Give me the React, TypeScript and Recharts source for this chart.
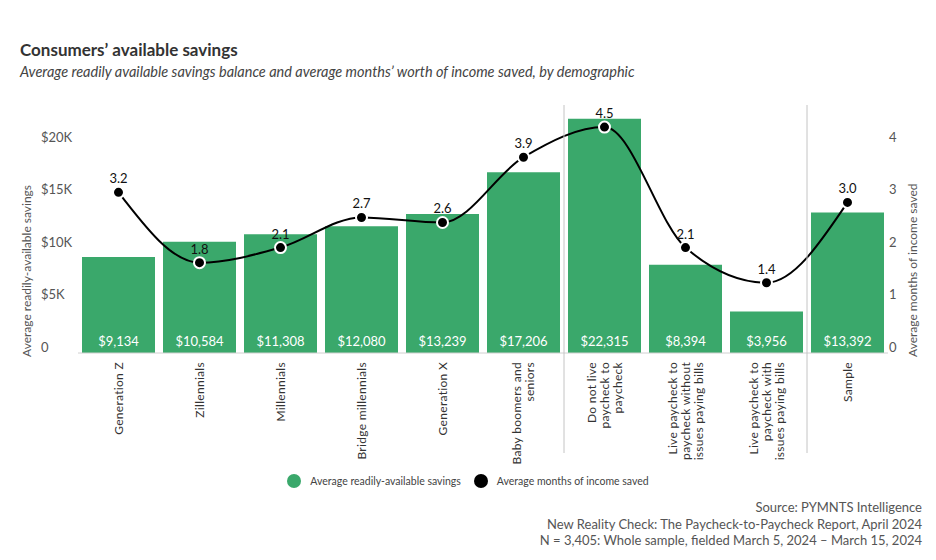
import React from "react";
import {
  ComposedChart,
  Bar,
  Line,
  XAxis,
  YAxis,
  Legend,
  LabelList,
  Label,
} from "recharts";

// categories (\n = line break in the rotated axis label)
const categories = [
  "Generation Z",
  "Zillennials",
  "Millennials",
  "Bridge millennials",
  "Generation X",
  "Baby boomers and\nseniors",
  "Do not live\npaycheck to\npaycheck",
  "Live paycheck to\npaycheck without\nissues paying bills",
  "Live paycheck to\npaycheck with\nissues paying bills",
  "Sample",
];
const savings = [9134, 10584, 11308, 12080, 13239, 17206, 22315, 8394, 3956, 13392];
const months = [3.2, 1.8, 2.1, 2.7, 2.6, 3.9, 4.5, 2.1, 1.4, 3.0];
const savingsTicks = [0, 5000, 10000, 15000, 20000];
const monthsTicks = [0, 1, 2, 3, 4];
// a group separator sits before these categories
const groupStarts = [6, 9];
const SAVINGS_NAME = "Average readily-available savings";
const MONTHS_NAME = "Average months of income saved";
const legendOrder = [SAVINGS_NAME, MONTHS_NAME];

const data = categories.map((name, i) => ({
  name,
  savings: savings[i],
  months: months[i],
}));

const GREEN = "#3aa86b";
const FONT = "Lato, 'Noto Sans', sans-serif";
const CHART_W = 936;
const CHART_H = 500;
const MARGIN = { top: 105, right: 0, bottom: 5, left: 0 };
const LEFT_W = 78;
const RIGHT_W = 48;
const XAXIS_H = 114;
const LEGEND_H = 28;
const PLOT_W = CHART_W - LEFT_W - RIGHT_W;
const PLOT_H = CHART_H - MARGIN.top - MARGIN.bottom - XAXIS_H - LEGEND_H;

const fmtMoney = (v: number) => "$" + v.toLocaleString("en-US");
const fmtK = (v: number) => (v === 0 ? "0" : `$${v / 1000}K`);

function LeftTick(props: any) {
  const { x, y, payload } = props;
  return (
    <text x={x - 37} y={y - 6} dy="0.35em" textAnchor="start" fontSize={13} fill="#555" fontFamily={FONT}>
      {fmtK(payload.value)}
    </text>
  );
}

function RightTick(props: any) {
  const { x, y, payload } = props;
  return (
    <text x={x + 1} y={y - 6} dy="0.35em" textAnchor="start" fontSize={13} fill="#555" fontFamily={FONT}>
      {payload.value}
    </text>
  );
}

function CategoryTick(props: any) {
  const { x, y, payload, index } = props;
  const lines = String(payload.value).split("\n");
  const lh = 13;
  const band = PLOT_W / categories.length;
  return (
    <g>
      {groupStarts.includes(index) && (
        <line
          x1={x - band / 2}
          x2={x - band / 2}
          y1={y - PLOT_H}
          y2={y + 100}
          stroke="#c4c4c4"
          strokeWidth={1}
        />
      )}
      <g transform={`translate(${x},${y + 9}) rotate(-90)`}>
        <text textAnchor="end" fontSize={12} fill="#333" fontFamily={FONT} letterSpacing={0.3}>
          {lines.map((ln, i) => (
            <tspan key={i} x={0} y={(i - (lines.length - 1) / 2) * lh} dy="0.35em">
              {ln}
            </tspan>
          ))}
        </text>
      </g>
    </g>
  );
}

function AxisTitle(props: any) {
  const { viewBox, value, dx } = props;
  const x = viewBox.x + dx;
  const y = viewBox.y + viewBox.height + 4;
  return (
    <text
      x={x}
      y={y}
      transform={`rotate(-90, ${x}, ${y})`}
      textAnchor="start"
      dy="0.35em"
      fontSize={12}
      fill="#555"
      fontFamily={FONT}
    >
      {value}
    </text>
  );
}

function renderLegend(props: any) {
  const items = (props.payload || [])
    .filter((p: any) => legendOrder.includes(p.value))
    .sort((a: any, b: any) => legendOrder.indexOf(a.value) - legendOrder.indexOf(b.value));
  return (
    <div style={{ display: "flex", justifyContent: "center", alignItems: "center", height: LEGEND_H }}>
      {items.map((p: any, i: number) => (
        <div key={i} style={{ display: "flex", alignItems: "center", marginLeft: i ? 13 : 0 }}>
          <span
            style={{
              width: 14,
              height: 14,
              borderRadius: 7,
              background: p.color,
              display: "inline-block",
              marginRight: 9,
            }}
          />
          <span style={{ fontSize: 10.5, color: "#444", fontFamily: FONT }}>{p.value}</span>
        </div>
      ))}
    </div>
  );
}

export default function App() {
  return (
    <div
      style={{
        position: "absolute",
        top: 0,
        left: 0,
        width: 936,
        height: 560,
        background: "#fff",
        fontFamily: FONT,
      }}
    >
      <div style={{ position: "absolute", left: 20, top: 39, fontSize: 17, fontWeight: 700, color: "#333" }}>
        Consumers’ available savings
      </div>
      <div style={{ position: "absolute", left: 20, top: 63, fontSize: 14.5, fontStyle: "italic", color: "#444" }}>
        Average readily available savings balance and average months’ worth of income saved, by demographic
      </div>

      <div style={{ position: "absolute", left: 0, top: 0 }}>
        <ComposedChart width={CHART_W} height={CHART_H} data={data} margin={MARGIN} barCategoryGap={4}>
          <XAxis
            dataKey="name"
            interval={0}
            height={XAXIS_H}
            tickLine={false}
            tickSize={0}
            tickMargin={0}
            axisLine={{ stroke: "#d0d0d0" }}
            tick={<CategoryTick />}
          />
          <YAxis
            yAxisId="left"
            width={LEFT_W}
            domain={[0, 23620]}
            ticks={savingsTicks}
            axisLine={false}
            tickLine={false}
            tickSize={0}
            tickMargin={0}
            tick={<LeftTick />}
          >
            <Label content={<AxisTitle value={SAVINGS_NAME} dx={27} />} />
          </YAxis>
          <YAxis
            yAxisId="right"
            orientation="right"
            type="number"
            width={RIGHT_W}
            domain={[0, 4.724]}
            allowDataOverflow
            ticks={monthsTicks}
            axisLine={false}
            tickLine={false}
            tickSize={0}
            tickMargin={0}
            tick={<RightTick />}
          >
            <Label content={<AxisTitle value={MONTHS_NAME} dx={25} />} />
          </YAxis>
          <YAxis yAxisId="line" hide domain={[0, 4.94]} />
          <Legend verticalAlign="bottom" height={LEGEND_H} content={renderLegend} />
          <Bar
            yAxisId="left"
            dataKey="savings"
            name={SAVINGS_NAME}
            fill={GREEN}
            legendType="circle"
            isAnimationActive={false}
          >
            <LabelList
              dataKey="savings"
              position="insideBottom"
              offset={7}
              fill="#fff"
              fontSize={13}
              fontFamily={FONT}
              formatter={(v: any) => fmtMoney(Number(v))}
            />
          </Bar>
          {/* invisible series so the right-hand axis gets drawn */}
          <Line
            yAxisId="right"
            dataKey="months"
            stroke="none"
            dot={false}
            activeDot={false}
            legendType="none"
            isAnimationActive={false}
          />
          <Line
            yAxisId="line"
            type="monotone"
            dataKey="months"
            name={MONTHS_NAME}
            stroke="#000"
            strokeWidth={2}
            dot={{ r: 5.5, fill: "#000", stroke: "#fff", strokeWidth: 2 }}
            activeDot={false}
            legendType="circle"
            isAnimationActive={false}
          >
            <LabelList
              dataKey="months"
              position="top"
              offset={9}
              fill="#111"
              fontSize={13}
              fontFamily={FONT}
              formatter={(v: any) => Number(v).toFixed(1)}
            />
          </Line>
        </ComposedChart>
      </div>

      <div
        style={{
          position: "absolute",
          right: 14,
          top: 499,
          textAlign: "right",
          fontSize: 13,
          lineHeight: "16.5px",
          color: "#555",
        }}
      >
        <div>Source: PYMNTS Intelligence</div>
        <div>New Reality Check: The Paycheck-to-Paycheck Report, April 2024</div>
        <div>N = 3,405: Whole sample, fielded March 5, 2024 – March 15, 2024</div>
      </div>
    </div>
  );
}
